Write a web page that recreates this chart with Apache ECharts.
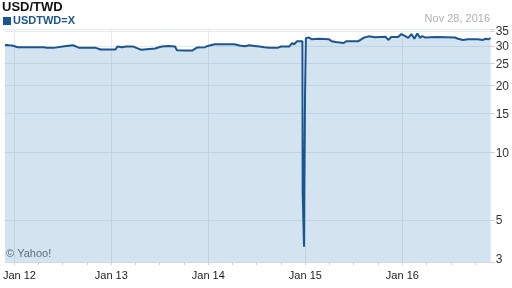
<!DOCTYPE html>
<html><head><meta charset="utf-8">
<script src="https://cdn.jsdelivr.net/npm/echarts@6/dist/echarts.min.js"></script>
<style>html,body{margin:0;padding:0;background:#fff}#c{width:512px;height:288px}</style>
</head><body><div id="c"></div>
<script>
const dates = ['2011-11-28','2011-12-02','2011-12-06','2011-12-10','2011-12-14','2011-12-19','2011-12-24','2011-12-29','2012-01-04','2012-01-15','2012-01-30','2012-04-24','2012-05-02','2012-05-28','2012-06-04','2012-07-16','2012-07-23','2012-08-10','2012-08-25','2012-09-02','2012-11-04','2012-11-11','2012-11-22','2013-01-17','2013-01-24','2013-02-10','2013-02-25','2013-03-25','2013-04-01','2013-04-24','2013-05-01','2013-06-15','2013-06-26','2013-07-10','2013-08-03','2013-08-29','2013-09-05','2013-10-05','2013-11-01','2013-11-19','2013-12-19','2013-12-30','2014-01-25','2014-04-10','2014-04-29','2014-05-18','2014-06-05','2014-06-24','2014-07-13','2014-07-31','2014-08-19','2014-09-18','2014-10-02','2014-11-01','2014-11-12','2014-11-20','2014-12-01','2014-12-21','2014-12-22','2014-12-26','2014-12-27','2014-12-28','2014-12-30','2014-12-31','2015-01-02','2015-01-03','2015-01-15','2015-01-25','2015-02-20','2015-03-31','2015-04-10','2015-04-25','2015-05-25','2015-06-05','2015-07-20','2015-08-08','2015-08-27','2015-09-20','2015-10-29','2015-11-09','2015-11-20','2015-12-16','2015-12-28','2016-01-12','2016-01-23','2016-02-04','2016-02-15','2016-02-26','2016-03-08','2016-03-16','2016-03-27','2016-05-10','2016-07-17','2016-07-28','2016-08-16','2016-09-03','2016-10-11','2016-10-30','2016-11-10','2016-11-18','2016-11-28'];
const rates = [30.2,29.6,30.3,29.7,30.2,29.6,30.1,29.6,29.9,29.6,29.6,29.6,29.4,29.4,30.0,30.0,30.2,30.2,29.7,29.4,29.4,29.1,28.9,28.9,29.8,29.6,29.8,29.8,29.3,28.8,29.2,29.2,29.5,29.8,30.0,29.8,28.7,28.6,28.6,29.5,29.6,30.0,30.5,30.5,30.1,29.9,30.2,30.0,29.8,29.6,29.4,29.4,29.8,29.8,30.9,30.5,31.5,31.5,6.6,6.6,3.8,6.6,6.6,19.0,19.0,32.5,32.7,32.1,32.3,32.1,31.5,31.2,30.9,31.5,31.5,32.6,33.1,32.8,33.0,31.9,32.9,32.9,33.9,33.2,32.6,33.9,32.3,34.1,32.6,33.2,32.7,32.9,32.7,32.3,31.9,32.1,32.1,31.9,32.3,32.1,32.5];
const yTickValues = [3.245, 5, 10, 15, 20, 25, 30, 35];
const yMin = 3.245, yMax = 35.7;
const xStart = '2011-11-28', xEnd = '2016-11-28';
const xLabelDates = ['2012-01-01','2013-01-01','2014-01-01','2015-01-01','2016-01-01'];
const xLabels = ['Jan 12','Jan 13','Jan 14','Jan 15','Jan 16'];
const quarterTickDates = ['2012-01-01','2012-04-01','2012-07-01','2012-10-01','2013-01-01','2013-04-01','2013-07-01','2013-10-01','2014-01-01','2014-04-01','2014-07-01','2014-10-01','2015-01-01','2015-04-01','2015-07-01','2015-10-01','2016-01-01','2016-04-01','2016-07-01','2016-10-01'];

const T = d => Date.parse(d + 'T00:00:00Z');
const L = v => Math.log10(v);
const seriesData = dates.map((d, i) => [T(d), L(rates[i])]);
const xLabelTimes = xLabelDates.map(T);

const chart = echarts.init(document.getElementById('c'), null, {renderer: 'canvas'});
const FONT = 'Liberation Sans, Arial, sans-serif';
chart.setOption({
  animation: false,
  grid: {left: 3, right: 19, top: 29, bottom: 26, show: false},
  xAxis: [{
    type: 'value', min: T(xStart), max: T(xEnd),
    axisLine: {show: true, lineStyle: {color: '#d8d8d8', width: 1}},
    axisTick: {show: true, customValues: quarterTickDates.map(T), length: 3, lineStyle: {color: '#d0d0d0'}},
    splitLine: {show: false},
    axisLabel: {
      customValues: xLabelTimes, margin: 8, color: '#222', fontSize: 11, fontFamily: FONT,
      formatter: function (v) {
        const i = xLabelTimes.indexOf(v);
        const s = i >= 0 ? xLabels[i] : '';
        return i === 0 ? '{a|' + s + '}' : s;
      },
      rich: {a: {padding: [0, 0, 0, 11], color: '#222', fontSize: 11, fontFamily: FONT}}
    }
  }, {
    type: 'value', min: T(xStart), max: T(xEnd), position: 'bottom',
    axisLine: {show: false}, axisLabel: {show: false},
    axisTick: {show: false, customValues: xLabelTimes},
    splitLine: {show: true, lineStyle: {color: '#e4eaf0', width: 1}}
  }],
  yAxis: {
    type: 'value', position: 'right', min: L(yMin), max: L(yMax),
    axisLine: {show: false},
    axisTick: {show: true, customValues: yTickValues.map(L).concat([L(yMax)]), length: 4, lineStyle: {color: '#d0d0d0'}},
    splitLine: {show: true, lineStyle: {color: '#e4eaf0', width: 1}},
    axisLabel: {
      customValues: yTickValues.map(L), margin: 5, color: '#333', fontSize: 12, fontFamily: FONT,
      formatter: function (v) {
        const n = Math.round(Math.pow(10, v));
        return v <= L(yMin) + 1e-6 ? '{b|' + n + '}' : '{c|' + n + '}';
      },
      rich: {
        b: {padding: [0, 0, 4, 0], color: '#333', fontSize: 12, fontFamily: FONT},
        c: {padding: [2, 0, 0, 0], color: '#333', fontSize: 12, fontFamily: FONT}
      }
    }
  },
  series: [{
    type: 'line', xAxisIndex: 0, data: seriesData, showSymbol: false,
    lineStyle: {color: '#1b5590', width: 2},
    itemStyle: {color: '#1b5590'},
    areaStyle: {color: 'rgba(64,134,188,0.23)', opacity: 1, origin: 'start'}
  }],
  graphic: [
    {type: 'text', left: 2, top: 1, style: {text: 'USD/TWD', font: 'bold 13px ' + FONT, fill: '#111'}},
    {type: 'rect', left: 3, top: 17, shape: {width: 8, height: 8}, style: {fill: '#1b5590'}},
    {type: 'text', left: 13, top: 15, style: {text: 'USDTWD=X', font: 'bold 11px ' + FONT, fill: '#1b5590'}},
    {type: 'text', right: 22, top: 13, style: {text: 'Nov 28, 2016', font: '11px ' + FONT, fill: '#b0b0b0'}},
    {type: 'text', left: 6, top: 248, style: {text: '\u00a9 Yahoo!', font: '11px ' + FONT, fill: '#666'}},
    {type: 'line', shape: {x1: 3, y1: 29.5, x2: 493, y2: 29.5}, style: {stroke: '#e4e4e4', lineWidth: 1}}
  ]
});
</script>
</body></html>
